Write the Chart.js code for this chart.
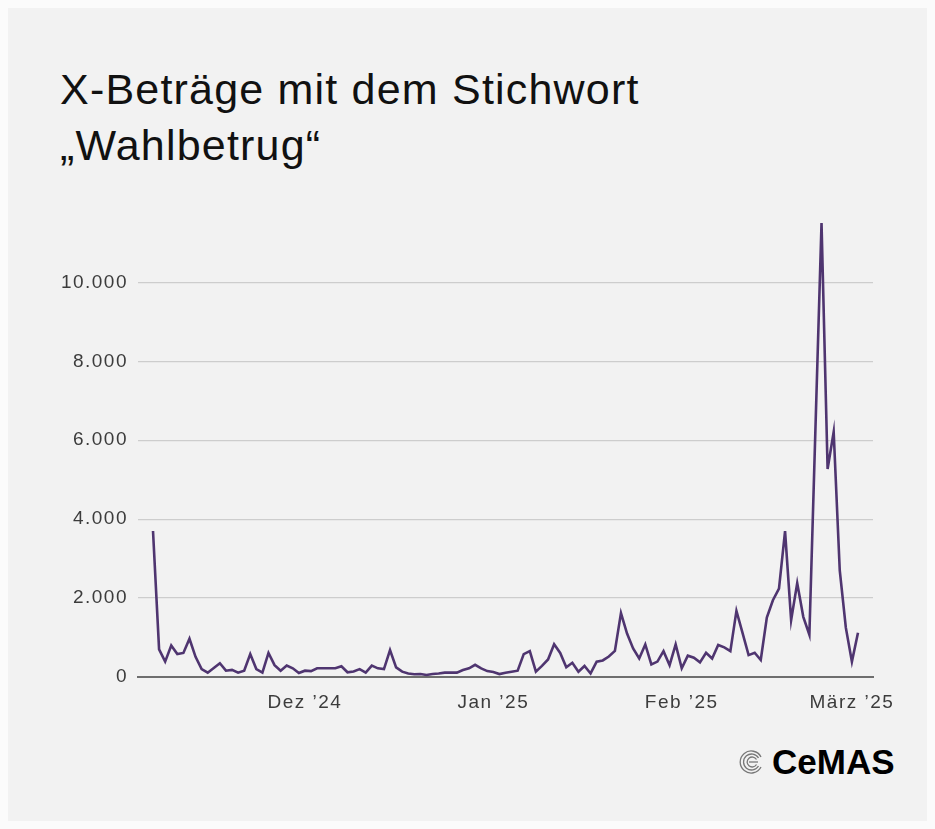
<!DOCTYPE html>
<html lang="de">
<head>
<meta charset="utf-8">
<title>X-Beiträge Wahlbetrug</title>
<script src="https://cdn.jsdelivr.net/npm/chart.js@4/dist/chart.umd.min.js"></script>
<style>
  html, body { margin: 0; padding: 0; background: #fbfbfb; }
  #panel {
    position: absolute; left: 8px; top: 8px; width: 919px; height: 813px;
    background: #f2f2f2; overflow: hidden;
  }
  #titel {
    position: absolute; left: 52px; top: 53px; margin: 0;
    font-family: "Liberation Sans", Arial, sans-serif; font-weight: normal;
    font-size: 43px; line-height: 56px; letter-spacing: 1.2px; color: #111;
  }
  #chartBox { position: absolute; left: 0; top: 174px; width: 919px; height: 548px; }
  #logo {
    position: absolute; left: 731px; top: 732px; height: 44px;
    display: flex; align-items: center; gap: 7px;
    font-family: "Liberation Sans", Arial, sans-serif; font-weight: bold;
    font-size: 35px; letter-spacing: 0px; color: #000;
  }
</style>
</head>
<body>
<div id="panel">
  <h1 id="titel">X-Beträge mit dem Stichwort<br>„Wahlbetrug“</h1>
  <div id="chartBox"><canvas id="grafico"></canvas></div>
  <div id="logo">
    <svg width="26" height="26" viewBox="0 0 26 26">
      <g fill="none" stroke="#777" stroke-width="1.3">
        <path d="M22 8 A11 11 0 1 0 22 18"/>
        <path d="M19.5 9 A8 8 0 1 0 19.5 17"/>
        <path d="M17.5 10.5 A5 5 0 1 0 17.5 15.5"/>
        <path d="M10 13 H19"/>
      </g>
    </svg>
    <span>CeMAS</span>
  </div>
</div>

<script>
// Tägliche Beiträge ab 6. Nov 2024 bis 2. März 2025
const startDatum = "2024-11-06";
const beitraege = [
  3700, 700, 390, 800, 580, 610, 970, 510, 200, 110,
  230, 350, 160, 180, 110, 160, 580, 200, 110, 610,
  300, 160, 290, 220, 100, 160, 150, 220, 220, 220,
  220, 270, 120, 140, 200, 110, 290, 220, 200, 680,
  245, 135, 90, 70, 75, 50, 75, 90, 110, 110,
  110, 175, 220, 310, 220, 150, 125, 75, 110, 135,
  160, 580, 655, 135, 280, 445, 830, 610, 245, 360,
  135, 280, 90, 390, 420, 520, 660, 1620, 1100, 725,
  470, 825, 320, 390, 655, 300, 825, 220, 540, 490,
  370, 615, 470, 810, 750, 655, 1675, 1120, 555, 615,
  430, 1505, 1945, 2240, 3695, 1440, 2380, 1525, 1070, 6300,
  11500, 5270, 6210, 2700, 1250, 390, 1120
];
const monatsDaten = ["2024-12-01", "2025-01-01", "2025-02-01", "2025-03-01"];
const monatsLabels = ["Dez \u201924", "Jan \u201925", "Feb \u201925", "März \u201925"];
const yTicks = [0, 2000, 4000, 6000, 8000, 10000];

function tagIndex(datum) {
  const t0 = Date.parse(startDatum + "T00:00:00Z");
  return Math.round((Date.parse(datum + "T00:00:00Z") - t0) / 86400000);
}

function formatZahl(v) {
  return String(v).replace(/\B(?=(\d{3})+(?!\d))/g, ".");
}

const monatsIndex = monatsDaten.map(tagIndex);
const punkte = beitraege.map((v, i) => ({ x: i, y: v }));

const letterSpacing = {
  id: "letterSpacing",
  beforeInit(chart) { chart.ctx.letterSpacing = "1.5px"; },
  beforeDraw(chart) { chart.ctx.letterSpacing = "1.5px"; }
};

new Chart(document.getElementById("grafico"), {
  type: "line",
  data: {
    datasets: [{
      label: "Beiträge",
      data: punkte,
      borderColor: "#4f3570",
      borderWidth: 2.6,
      pointRadius: 0,
      tension: 0,
      fill: false
    }]
  },
  options: {
    responsive: true,
    maintainAspectRatio: false,
    animation: false,
    layout: { padding: { left: 0, right: 54, top: 8, bottom: 0 } },
    plugins: {
      legend: { display: false },
      tooltip: { enabled: false }
    },
    scales: {
      x: {
        type: "linear",
        min: -2.47,
        max: 118.47,
        grid: { display: false, drawTicks: false },
        border: { display: true, color: "#6e6e6e", width: 2 },
        afterBuildTicks: (axis) => { axis.ticks = monatsIndex.map(v => ({ value: v })); },
        afterFit: (axis) => { axis.height = 53; },
        ticks: {
          autoSkip: false,
          maxRotation: 0,
          padding: 14,
          color: "#3c3c3c",
          font: { family: "Liberation Sans", size: 19 },
          callback: (v) => monatsLabels[monatsIndex.indexOf(v)] || ""
        }
      },
      y: {
        min: 0,
        max: 12000,
        grid: {
          drawTicks: false,
          color: (c) => c.tick && c.tick.value === 0 ? "rgba(0,0,0,0)" : "#cdcdcd",
          lineWidth: 1.2
        },
        border: { display: false },
        afterBuildTicks: (axis) => { axis.ticks = yTicks.map(v => ({ value: v })); },
        afterFit: (axis) => { axis.width = 130; },
        ticks: {
          padding: 10,
          color: "#3c3c3c",
          font: { family: "Liberation Sans", size: 19 },
          callback: (v) => formatZahl(v)
        }
      }
    }
  },
  plugins: [letterSpacing]
});
</script>
</body>
</html>
